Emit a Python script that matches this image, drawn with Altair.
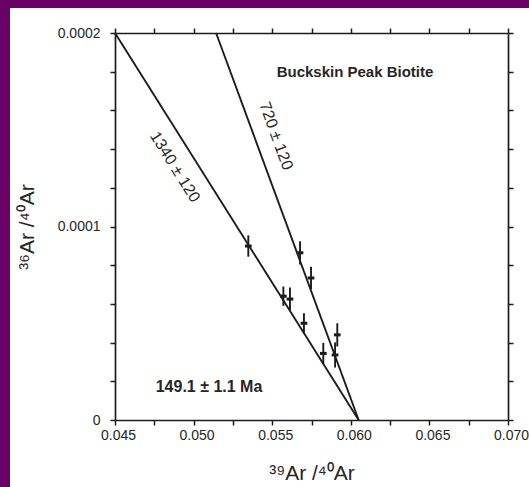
import altair as alt
import pandas as pd

# data points (39Ar/40Ar, 36Ar/40Ar, 1-sigma error on y)
pt_x = [0.05348, 0.05677, 0.05747, 0.05571, 0.05613, 0.05702, 0.05825, 0.05914, 0.05900]
pt_y = [0.0000899, 0.0000864, 0.0000734, 0.0000640, 0.0000625, 0.0000500, 0.0000344, 0.0000440, 0.0000336]
pt_err = [0.0000055, 0.0000060, 0.0000058, 0.0000050, 0.0000060, 0.0000052, 0.0000055, 0.0000060, 0.0000065]

# isochron lines
line_names = ["1340 ± 120", "720 ± 120"]
line_x0 = [0.045, 0.05143]
line_y0 = [0.0002, 0.0002]
line_x1 = [0.0605, 0.0605]
line_y1 = [0.0, 0.0]

x_ticks = [0.045, 0.0475, 0.050, 0.0525, 0.055, 0.0575, 0.060, 0.0625, 0.065, 0.0675, 0.070]
y_ticks = [0.0, 0.00002, 0.00004, 0.00006, 0.00008, 0.0001, 0.00012, 0.00014, 0.00016, 0.00018, 0.0002]

pts = pd.DataFrame({"x": pt_x, "y": pt_y, "err": pt_err})
lines = pd.DataFrame({"name": line_names, "x0": line_x0, "y0": line_y0, "x1": line_x1, "y1": line_y1})

FONT = "Liberation Sans"
INK = "#1c1c1c"
TXT = "#262626"

xscale = alt.Scale(domain=[0.045, 0.070], nice=False, zero=False)
yscale = alt.Scale(domain=[0, 0.0002], nice=False, zero=True)

common_axis = dict(domainColor=INK, domainWidth=1.7, tickColor=INK, tickWidth=1.5,
                   tickSize=5, zindex=1, grid=False, labelFont=FONT, labelColor=TXT,
                   labelFontSize=14, titleFont=FONT, titleColor=TXT)

x_bottom = alt.Axis(orient="bottom", values=x_ticks,
                    labelExpr="abs(datum.value*1000 - round(datum.value*200)*5) < 0.01 ? format(datum.value, '.3f') : ''",
                    title="³⁹Ar /⁴⁰Ar", titleFontSize=21, titleFontWeight="normal",
                    labelPadding=3, labelOffset=3, titlePadding=20, labelFlush=False,
                    labelOverlap=False, **common_axis)
y_left = alt.Axis(orient="left", values=y_ticks,
                  labelExpr="datum.value == 0 ? '0' : (abs(datum.value*1e4 - round(datum.value*1e4)) < 0.01 ? format(datum.value, '.4f') : '')",
                  title="³⁶Ar /⁴⁰Ar", titleFontSize=21, titleFontWeight="normal",
                  labelPadding=10, titlePadding=20, labelOverlap=False, **common_axis)
x_top = alt.Axis(orient="top", values=x_ticks, labels=False, title=None, **common_axis)
y_right = alt.Axis(orient="right", values=y_ticks, labels=False, title=None, **common_axis)

bg = alt.Chart(pd.DataFrame({"a": [0]})).mark_rect(fill="white").encode(
    x=alt.value(-105), x2=alt.value(414), y=alt.value(-25), y2=alt.value(454))

iso = alt.Chart(lines).mark_rule(color=INK, strokeWidth=1.9).encode(
    x=alt.X("x0:Q", scale=xscale, axis=x_bottom),
    y=alt.Y("y0:Q", scale=yscale, axis=y_left),
    x2="x1:Q", y2="y1:Q")

bars = alt.Chart(pts).transform_calculate(
    lo="datum.y - datum.err", hi="datum.y + datum.err"
).mark_rule(color=INK, strokeWidth=1.9).encode(
    x=alt.X("x:Q", scale=xscale, axis=x_top),
    y=alt.Y("lo:Q", scale=yscale, axis=y_right),
    y2="hi:Q")

marks = alt.Chart(pts).mark_point(shape="M-1,-0.45L1,-0.45L1,0.45L-1,0.45Z", filled=True,
                                  color=INK, size=45, opacity=1).encode(
    x=alt.X("x:Q", scale=xscale, axis=None),
    y=alt.Y("y:Q", scale=yscale, axis=None))

def label(text, px, py, angle=0, size=12, weight="bold"):
    return alt.Chart(pd.DataFrame({"t": [text]})).mark_text(
        font=FONT, fontSize=size, fontWeight=weight, color=TXT, angle=angle,
        align="center", baseline="middle").encode(
        text="t:N", x=alt.value(px), y=alt.value(py))

t_title = label("Buckskin Peak Biotite", 240, 39, size=15, weight="bold")
t_720 = label(line_names[1], 161, 103, angle=70, size=16, weight="normal")
t_1340 = label(line_names[0], 60, 134, angle=58, size=16, weight="normal")
t_age = label("149.1 ± 1.1 Ma", 94, 354, size=16, weight="bold")

chart = alt.layer(bg, iso, bars, marks, t_title, t_720, t_1340, t_age).resolve_axis(
    x="independent", y="independent"
).properties(
    width=393, height=387,
    padding={"left": 115, "top": 33, "right": 21, "bottom": 67},
    autosize=alt.AutoSizeParams(type="none"),
    background="#690066",
).configure_view(stroke=None)

chart.save("out.html", embed_options={"renderer": "svg", "actions": False})
